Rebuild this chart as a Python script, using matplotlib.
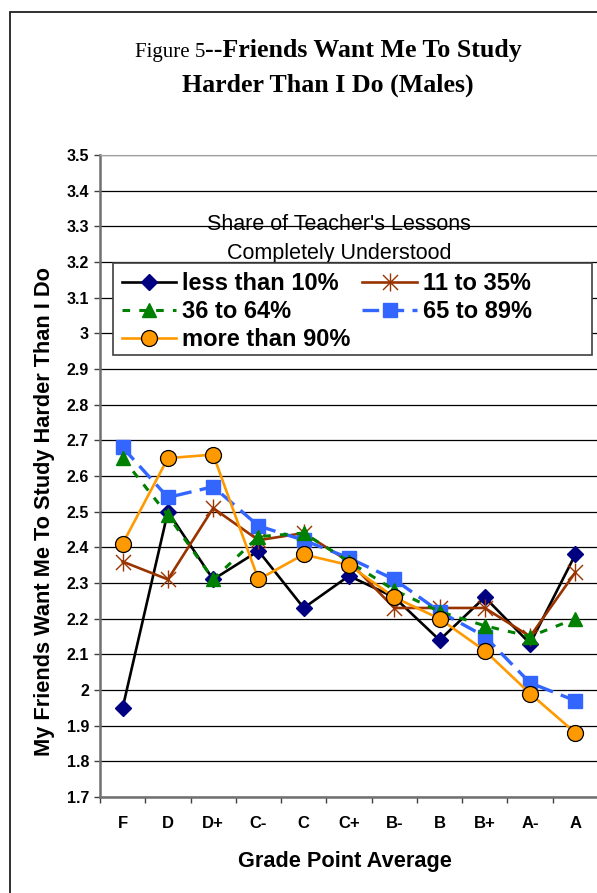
"""Figure 5 -- Friends want me to study harder than I do (males)."""
import matplotlib
matplotlib.use("Agg")
import matplotlib.pyplot as plt
from matplotlib.patches import Rectangle
from matplotlib.path import Path


# %% Daten
grades = ['F', 'D', 'D+', 'C-', 'C', 'C+', 'B-', 'B', 'B+', 'A-', 'A']

less_10 = [1.95, 2.50, 2.31, 2.39, 2.23, 2.32, 2.26, 2.14, 2.26, 2.13, 2.38]
p11_35 = [2.36, 2.31, 2.51, 2.42, 2.44, 2.36, 2.23, 2.23, 2.23, 2.15, 2.33]
p36_64 = [2.65, 2.49, 2.31, 2.43, 2.44, 2.36, 2.28, 2.22, 2.18, 2.15, 2.20]
p65_89 = [2.68, 2.54, 2.57, 2.46, 2.42, 2.37, 2.31, 2.22, 2.15, 2.02, 1.97]
more_90 = [2.41, 2.65, 2.66, 2.31, 2.38, 2.35, 2.26, 2.20, 2.11, 1.99, 1.88]

yticks = [1.7, 1.8, 1.9, 2.0, 2.1, 2.2, 2.3, 2.4, 2.5, 2.6, 2.7, 2.8, 2.9,
          3.0, 3.1, 3.2, 3.3, 3.4, 3.5]
ytick_labels = ['1.7', '1.8', '1.9', '2', '2.1', '2.2', '2.3', '2.4', '2.5',
                '2.6', '2.7', '2.8', '2.9', '3', '3.1', '3.2', '3.3', '3.4',
                '3.5']

x = list(range(len(grades)))

# Excel-Sternmarker (X mit senkrechtem Strich)
star = Path([(-1, -1), (1, 1), (-1, 1), (1, -1), (0, -1.2), (0, 1.2)],
            [Path.MOVETO, Path.LINETO, Path.MOVETO, Path.LINETO,
             Path.MOVETO, Path.LINETO])

plt.rcParams['font.family'] = ['Liberation Sans', 'DejaVu Sans']


# %% Plot
fig = plt.figure(figsize=(5.97, 8.93), dpi=100)
ax = fig.add_axes([100 / 597, 1 - 797 / 893, 498 / 597, 642 / 893])

# Rahmen um das ganze Diagramm
fig.patches.append(Rectangle((10 / 597, -0.1), 1.2, 1 - 12 / 893 + 0.1,
                             transform=fig.transFigure, fill=False,
                             edgecolor='#202020', linewidth=1.3))

h1, = ax.plot(x, less_10, color='black', lw=1.9, marker='D', ms=8.5,
              mfc='#000080', mec='#000080', label='less than 10%', zorder=3)
h2, = ax.plot(x, p11_35, color='#993300', lw=1.9, marker=star, ms=13,
              mfc='none', mec='#993300', mew=1.0, label='11 to 35%',
              zorder=3)
h4, = ax.plot(x, p65_89, color='#3366FF', lw=2.4, ls=(0, (5, 2.5)),
              marker='s', ms=9.5, mfc='#3366FF', mec='#3366FF',
              label='65 to 89%', zorder=3)
h3, = ax.plot(x, p36_64, color='#008000', lw=2.2, ls=(0, (2.5, 3)),
              marker='^', ms=10, mfc='#008000', mec='#008000',
              label='36 to 64%', zorder=3)
h5, = ax.plot(x, more_90, color='#FF9900', lw=1.9, marker='o', ms=11.5,
              mfc='#FF9900', mec='black', mew=0.9, label='more than 90%',
              zorder=4)

ax.set_xlim(-0.5, len(grades) - 0.5)
ax.set_ylim(1.7, 3.5)
ax.set_yticks(yticks)
ax.set_yticklabels(ytick_labels, fontweight='bold', fontsize=11.5)
ax.set_xticks(x)
ax.set_xticklabels(grades, fontweight='bold', fontsize=12)
ax.set_xticks([i - 0.5 for i in range(len(grades) + 1)], minor=True)
ax.tick_params(axis='x', which='major', length=0, pad=14)
ax.tick_params(axis='x', which='minor', length=4, width=1,
               color='#404040', direction='out')
ax.tick_params(axis='y', length=4, width=1, color='#404040', pad=4)
ax.yaxis.grid(True, color='black', lw=0.9)
ax.set_axisbelow(True)

for side in ['left', 'bottom']:
    ax.spines[side].set_color('#707070')
    ax.spines[side].set_linewidth(1.8)
ax.spines['top'].set_color('#a0a0a0')
ax.spines['top'].set_linewidth(0.8)
ax.spines['right'].set_visible(False)

# Legendentitel
ax.text(0.4806, 1 - (224 - 155) / 642, "Share of Teacher's Lessons",
        transform=ax.transAxes, ha='center', va='center', fontsize=15.5)
ax.text(0.4806, 1 - (253 - 155) / 642, 'Completely Understood',
        transform=ax.transAxes, ha='center', va='center', fontsize=15.5)

# Legendenrahmen (breiter als der Inhalt, wie im Original)
ax.add_patch(Rectangle((13 / 498, (797 - 355) / 642), 479 / 498, 92 / 642,
                       transform=ax.transAxes, facecolor='white',
                       edgecolor='#404040', lw=1.2, zorder=5))
leg = ax.legend(handles=[h1, h3, h5, h2, h4], ncol=2, loc='upper left',
                bbox_to_anchor=(13 / 498, (797 - 263) / 642),
                borderaxespad=0, frameon=False,
                prop={'weight': 'bold', 'size': 17},
                handlelength=2.3, handletextpad=0.25, columnspacing=0.5,
                labelspacing=0.22, borderpad=0.38)
leg.set_zorder(6)

# Achsenbeschriftungen
fig.text(345 / 597, 1 - 862 / 893, 'Grade Point Average', ha='center',
         va='center', fontsize=15.7, fontweight='bold')
fig.text(45 / 597, 1 - 512 / 893,
         'My Friends Want Me To Study Harder Than I Do', ha='center',
         va='center', rotation=90, fontsize=15.7, fontweight='bold')

# Titel (gemischte Schrift)
serif = ['Liberation Serif', 'DejaVu Serif']
fig.text(205 / 597, 1 - 57 / 893, 'Figure 5', ha='right', va='baseline',
         fontsize=15, family=serif)
fig.text(205 / 597, 1 - 57 / 893, '--Friends Want Me To Study', ha='left',
         va='baseline', fontsize=18.6, fontweight='bold', family=serif)
fig.text(328 / 597, 1 - 92 / 893, 'Harder Than I Do (Males)', ha='center',
         va='baseline', fontsize=18.6, fontweight='bold', family=serif)

fig.savefig('out.png', dpi=100)
